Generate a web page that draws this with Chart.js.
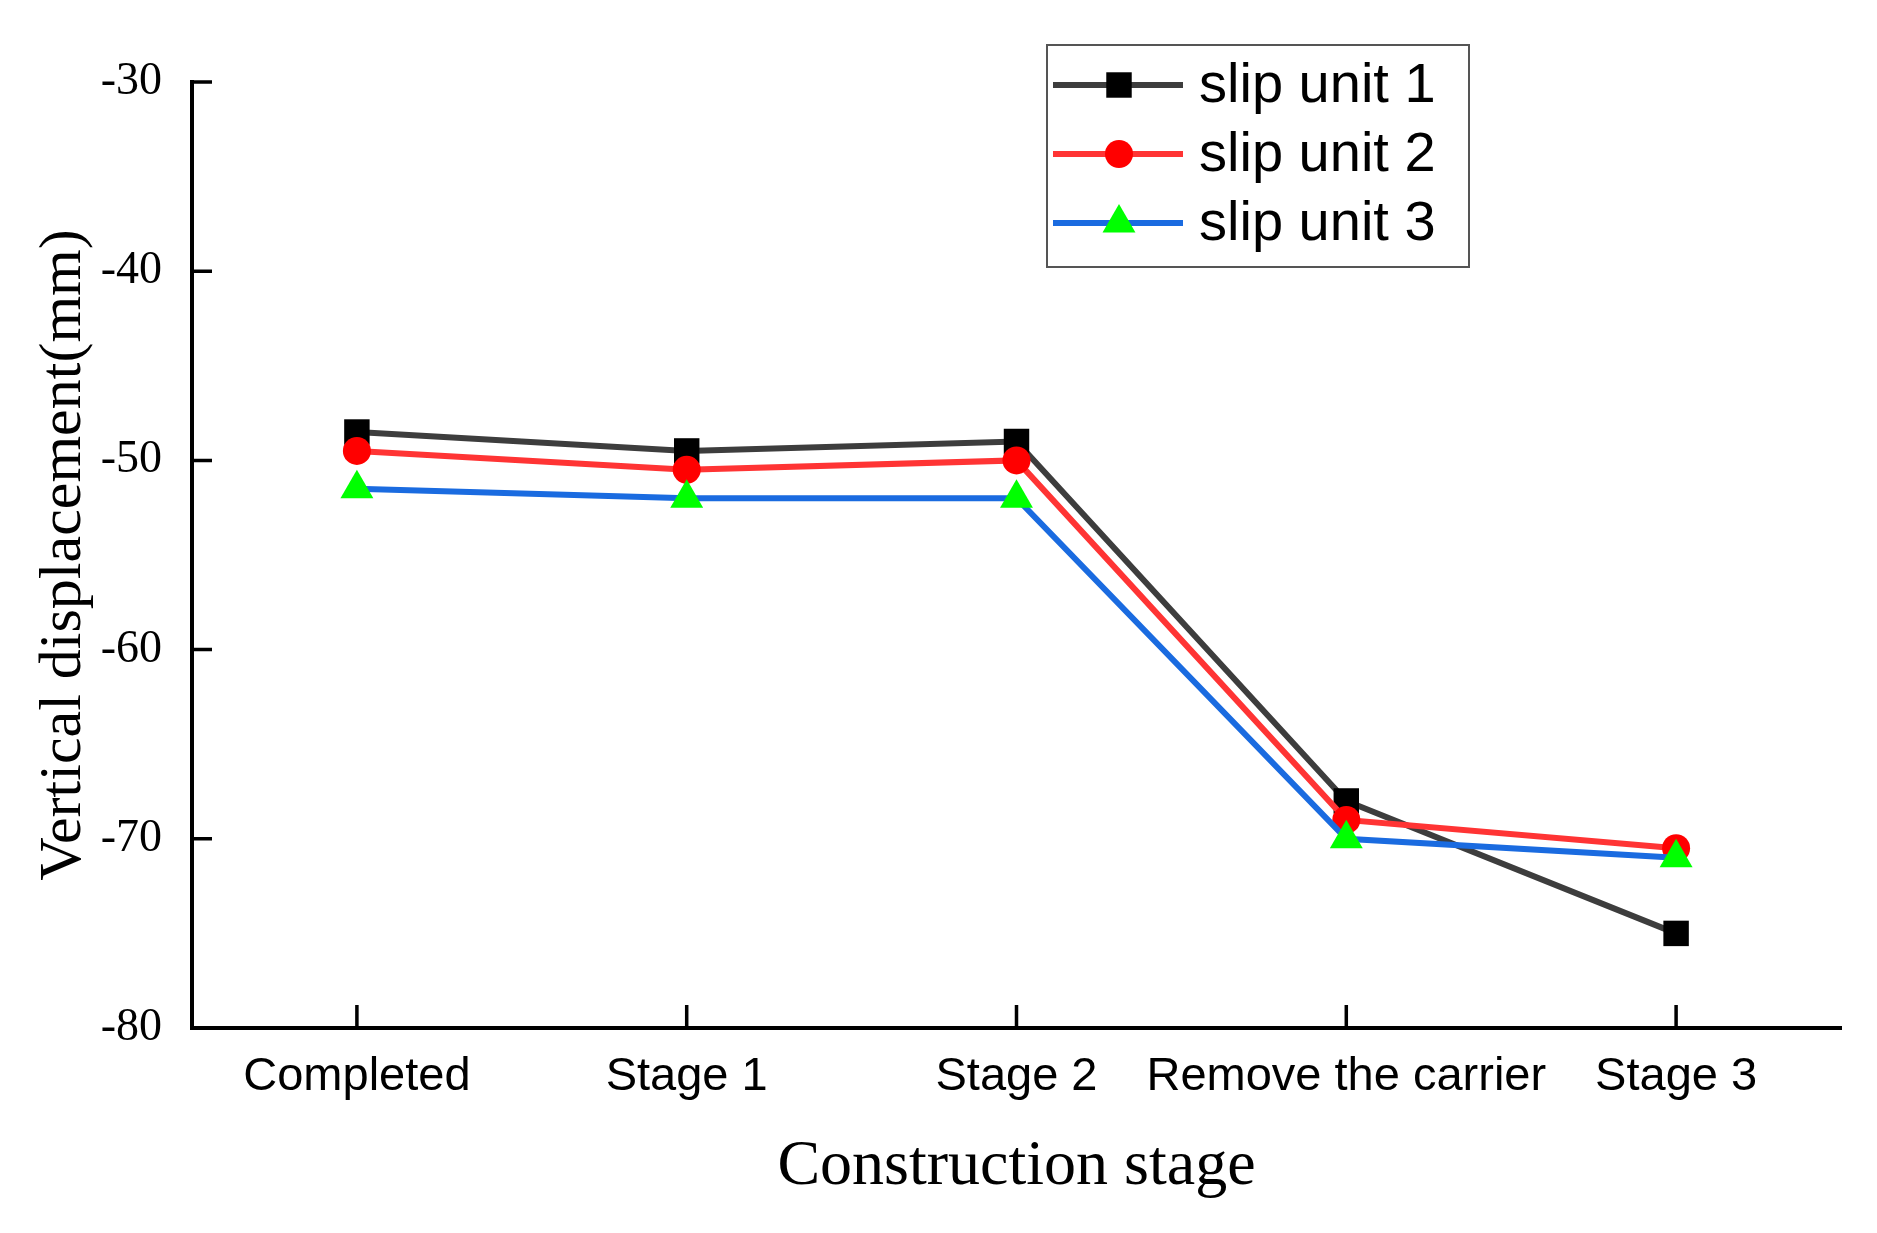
<!DOCTYPE html>
<html>
<head>
<meta charset="utf-8">
<script src="https://cdn.jsdelivr.net/npm/chart.js@4"></script>
<style>
html,body{margin:0;padding:0;background:#fff;}
#wrap{width:1877px;height:1233px;}
</style>
</head>
<body>
<div id="wrap"><canvas id="c" width="1877" height="1233"></canvas></div>
<script>
const categories = ["Completed", "Stage 1", "Stage 2", "Remove the carrier", "Stage 3"];
const seriesNames = ["slip unit 1", "slip unit 2", "slip unit 3"];
const slipUnit1 = [-48.5, -49.5, -49, -68, -75];
const slipUnit2 = [-49.5, -50.5, -50, -69, -70.5];
const slipUnit3 = [-51.5, -52, -52, -70, -71];
const yTicks = [-80, -70, -60, -50, -40, -30];

const lineColors = ['#3d3d3d', '#ff3434', '#1a6be0'];
const markColors = ['#000000', '#ff0000', '#00ff00'];
const markStyles = ['rect', 'circle', 'triangle'];
const markRadius = [18, 14, 19];

function drawMarker(ctx, style, x, y, r, color) {
  ctx.save();
  ctx.fillStyle = color;
  ctx.beginPath();
  if (style === 'rect') {
    const s = Math.SQRT1_2 * r;
    ctx.rect(x - s, y - s, 2 * s, 2 * s);
  } else if (style === 'circle') {
    ctx.arc(x, y, r, 0, Math.PI * 2);
  } else {
    let a = 0;
    ctx.moveTo(x + Math.sin(a) * r, y - Math.cos(a) * r);
    a += 2 * Math.PI / 3;
    ctx.lineTo(x + Math.sin(a) * r, y - Math.cos(a) * r);
    a += 2 * Math.PI / 3;
    ctx.lineTo(x + Math.sin(a) * r, y - Math.cos(a) * r);
    ctx.closePath();
  }
  ctx.fill();
  ctx.restore();
}

const bgPlugin = {
  id: 'bg',
  beforeDraw(chart) {
    const ctx = chart.ctx;
    ctx.save();
    ctx.fillStyle = '#fff';
    ctx.fillRect(0, 0, chart.width, chart.height);
    ctx.restore();
  }
};

const innerTicks = {
  id: 'innerTicks',
  beforeDatasetsDraw(chart) {
    const ctx = chart.ctx;
    const ca = chart.chartArea;
    const xs = chart.scales.x, ys = chart.scales.y;
    ctx.save();
    ctx.strokeStyle = '#000';
    ctx.lineWidth = 3.5;
    ctx.beginPath();
    ys.ticks.forEach((t, i) => {
      const y = ys.getPixelForTick(i);
      ctx.moveTo(ca.left, y);
      ctx.lineTo(ca.left + 20, y);
    });
    xs.ticks.forEach((t, i) => {
      const x = xs.getPixelForTick(i);
      ctx.moveTo(x, ca.bottom);
      ctx.lineTo(x, ca.bottom - 23);
    });
    ctx.stroke();
    ctx.restore();
  }
};

const legendPlugin = {
  id: 'boxLegend',
  afterDraw(chart) {
    const ctx = chart.ctx;
    const bx = 1047, by = 45, bw = 422, bh = 222;
    ctx.save();
    ctx.fillStyle = '#fff';
    ctx.fillRect(bx, by, bw, bh);
    ctx.strokeStyle = '#555';
    ctx.lineWidth = 2;
    ctx.strokeRect(bx, by, bw, bh);
    const rows = [85, 154, 223];
    chart.data.datasets.forEach((ds, i) => {
      const y = rows[i];
      ctx.strokeStyle = ds.borderColor;
      ctx.lineWidth = 6;
      ctx.beginPath();
      ctx.moveTo(bx + 6, y);
      ctx.lineTo(bx + 136, y);
      ctx.stroke();
      drawMarker(ctx, ds.pointStyle, bx + 72, y, ds.pointRadius, ds.pointBackgroundColor);
      ctx.fillStyle = '#000';
      ctx.font = '56px "Liberation Sans", Arial, sans-serif';
      ctx.textBaseline = 'middle';
      ctx.textAlign = 'left';
      ctx.fillText(ds.label, bx + 152, y + 2);
    });
    ctx.restore();
  }
};

const seriesData = [slipUnit1, slipUnit2, slipUnit3];
const datasets = seriesData.map((d, i) => ({
  label: seriesNames[i],
  data: d,
  borderColor: lineColors[i],
  backgroundColor: markColors[i],
  borderWidth: 6,
  pointStyle: markStyles[i],
  pointRadius: markRadius[i],
  pointHoverRadius: markRadius[i],
  pointBackgroundColor: markColors[i],
  pointBorderColor: markColors[i],
  pointBorderWidth: 0,
  tension: 0,
  fill: false,
  order: 3 - i,
  clip: false
}));

new Chart(document.getElementById('c'), {
  type: 'line',
  data: { labels: categories, datasets },
  plugins: [bgPlugin, innerTicks, legendPlugin],
  options: {
    responsive: false,
    animation: false,
    devicePixelRatio: 1,
    layout: { padding: { top: 82, right: 36, left: 0, bottom: 0 } },
    plugins: { legend: { display: false }, tooltip: { enabled: false } },
    scales: {
      x: {
        offset: true,
        afterFit(s) { s.height = 205; },
        grid: { display: false, drawTicks: false },
        border: { display: true, color: '#000', width: 4 },
        ticks: {
          color: '#000',
          padding: 21,
          maxRotation: 0,
          autoSkip: false,
          font: { family: '"Liberation Sans", Arial, sans-serif', size: 47 }
        },
        title: {
          display: true,
          text: 'Construction stage',
          color: '#000',
          padding: { top: 0, bottom: 27 },
          font: { family: '"Liberation Serif", "Times New Roman", serif', size: 64, lineHeight: 1.2 }
        }
      },
      y: {
        min: yTicks[0],
        max: yTicks[yTicks.length - 1],
        afterFit(s) { s.width = 192; },
        afterBuildTicks(s) { s.ticks = yTicks.map(v => ({ value: v })); },
        grid: { display: false, drawTicks: false },
        border: { display: true, color: '#000', width: 4 },
        ticks: {
          color: '#000',
          padding: 30,
          font: { family: '"Liberation Serif", "Times New Roman", serif', size: 46 }
        },
        title: {
          display: true,
          text: 'Vertical displacement(mm)',
          color: '#000',
          padding: { top: 28, bottom: 0 },
          font: { family: '"Liberation Serif", "Times New Roman", serif', size: 60, lineHeight: 1.2 }
        }
      }
    }
  }
});
</script>
</body>
</html>
